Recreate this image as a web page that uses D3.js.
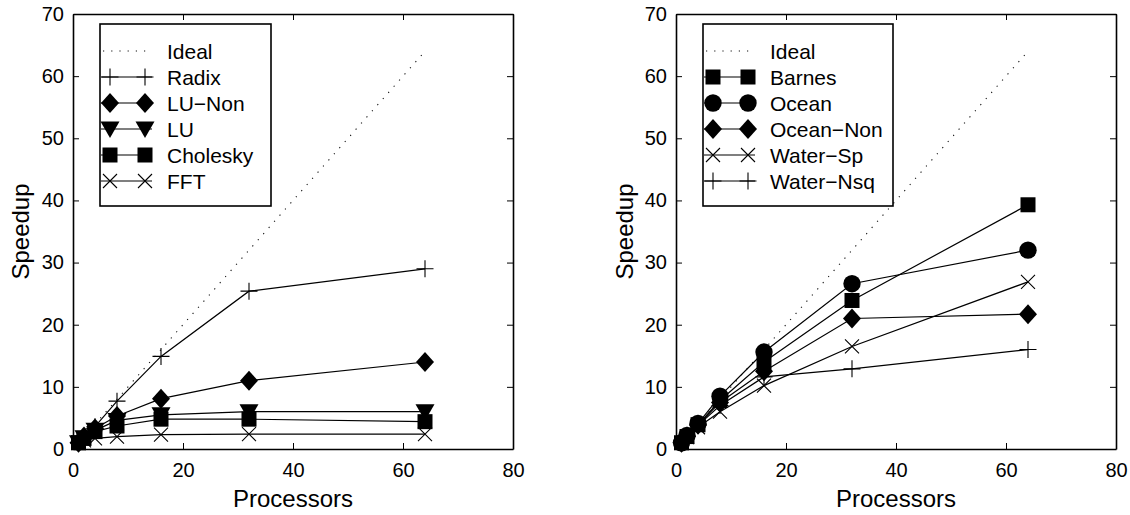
<!DOCTYPE html>
<html>
<head>
<meta charset="utf-8">
<script src="https://cdn.jsdelivr.net/npm/d3@7"></script>
<style>
  body { margin: 0; background: #fff; }
  text { font-family: "Liberation Sans", Arial, Helvetica, sans-serif; fill: #000; }
</style>
</head>
<body>
<svg width="1130" height="515"></svg>
<script>
// processor counts (x values)
let procs = [1, 2, 4, 8, 16, 32, 64];
let idealX = [1, 64];

// left panel series
let radix    = [1, 2, 3.6, 7.7, 14.9, 25.4, 29];
let luNon    = [1, 2, 3.3, 5.3, 8.1, 11, 14];
let lu       = [1, 1.8, 3, 4.6, 5.5, 6, 6];
let cholesky = [1, 1.7, 2.8, 3.7, 4.8, 4.8, 4.4];
let fft      = [1, 1.4, 1.7, 2.0, 2.3, 2.4, 2.4];

// right panel series
let barnes   = [1, 2, 3.9, 7.8, 14, 23.9, 39.3];
let ocean    = [1, 2.2, 4.1, 8.5, 15.6, 26.6, 32];
let oceanNon = [1, 2, 3.9, 7.5, 12.5, 21, 21.7];
let waterSp  = [1, 1.9, 3.5, 6, 10.2, 16.5, 26.9];
let waterNsq = [1, 2, 3.8, 7, 11.6, 12.9, 16];

let xTicks = [0, 20, 40, 60, 80];
let yTicks = [0, 10, 20, 30, 40, 50, 60, 70];

let leftNames  = ['Ideal', 'Radix', 'LU\u2212Non', 'LU', 'Cholesky', 'FFT'];
let leftData   = [null, radix, luNon, lu, cholesky, fft];
let leftMarks  = ['none', 'plus', 'diamond', 'tri', 'square', 'x'];

let rightNames = ['Ideal', 'Barnes', 'Ocean', 'Ocean\u2212Non', 'Water\u2212Sp', 'Water\u2212Nsq'];
let rightData  = [null, barnes, ocean, oceanNon, waterSp, waterNsq];
let rightMarks = ['none', 'square', 'circle', 'diamond', 'x', 'plus'];

let svg = d3.select('svg');

// draw a marker of the given type at (cx, cy)
function drawMarker(g, type, cx, cy) {
    if (type === 'plus') {
        g.append('path').attr('d', `M${cx-8.5},${cy}H${cx+8.5}M${cx},${cy-8.5}V${cy+8.5}`)
            .attr('stroke', '#000').attr('stroke-width', 1.1).attr('fill', 'none');
    } else if (type === 'x') {
        g.append('path').attr('d', `M${cx-7},${cy-7}L${cx+7},${cy+7}M${cx-7},${cy+7}L${cx+7},${cy-7}`)
            .attr('stroke', '#000').attr('stroke-width', 1.1).attr('fill', 'none');
    } else if (type === 'diamond') {
        g.append('path').attr('d', `M${cx},${cy-10}L${cx+9},${cy}L${cx},${cy+10}L${cx-9},${cy}Z`)
            .attr('fill', '#000');
    } else if (type === 'tri') {
        g.append('path').attr('d', `M${cx-9.5},${cy-7.5}L${cx+9.5},${cy-7.5}L${cx},${cy+9}Z`)
            .attr('fill', '#000');
    } else if (type === 'square') {
        g.append('rect').attr('x', cx - 7.5).attr('y', cy - 7.5)
            .attr('width', 15).attr('height', 15).attr('fill', '#000');
    } else if (type === 'circle') {
        g.append('circle').attr('cx', cx).attr('cy', cy).attr('r', 8.7).attr('fill', '#000');
    }
}

function drawPanel(p) {
    let xScale = d3.scaleLinear().domain([0, 80]).range([p.x0, p.x1]);
    let yScale = d3.scaleLinear().domain([0, 70]).range([p.y1, p.y0]);

    let g = svg.append('g');

    // ideal dotted line
    g.append('path')
        .attr('d', d3.line().x(d => xScale(d)).y(d => yScale(d))(idealX))
        .attr('fill', 'none').attr('stroke', '#111').attr('stroke-width', 1.1)
        .attr('stroke-dasharray', '1.2,7');

    // series
    for (let i = 1; i < p.data.length; i++) {
        let vals = p.data[i];
        let pts = procs.map((x, j) => [x, vals[j]]);
        g.append('path')
            .attr('d', d3.line().x(d => xScale(d[0])).y(d => yScale(d[1]))(pts))
            .attr('fill', 'none').attr('stroke', '#000').attr('stroke-width', 1.2);
        pts.forEach(d => drawMarker(g, p.marks[i], xScale(d[0]), yScale(d[1])));
    }

    // axes (inward ticks, boxed)
    let bottom = g.append('g').attr('transform', `translate(0,${p.y1})`)
        .call(d3.axisBottom(xScale).tickValues(xTicks).tickSizeInner(-6).tickSizeOuter(0).tickPadding(14));
    let left = g.append('g').attr('transform', `translate(${p.x0},0)`)
        .call(d3.axisLeft(yScale).tickValues(yTicks).tickSizeInner(-6).tickSizeOuter(0).tickPadding(9));
    let top = g.append('g').attr('transform', `translate(0,${p.y0})`)
        .call(d3.axisTop(xScale).tickValues(xTicks).tickSizeInner(-6).tickSizeOuter(0).tickFormat(''));
    let right = g.append('g').attr('transform', `translate(${p.x1},0)`)
        .call(d3.axisRight(yScale).tickValues(yTicks).tickSizeInner(-6).tickSizeOuter(0).tickFormat(''));
    [bottom, left, top, right].forEach(a => {
        a.select('.domain').attr('stroke', '#000').attr('stroke-width', 1.6);
        a.selectAll('.tick line').attr('stroke', '#000').attr('stroke-width', 1);
        a.selectAll('.tick text').attr('font-size', '20px').attr('fill', '#000')
            .style('font-family', '"Liberation Sans", Arial, sans-serif');
    });

    // axis labels
    g.append('text').attr('x', (p.x0 + p.x1) / 2).attr('y', 507)
        .attr('text-anchor', 'middle').attr('font-size', '24px').text('Processors');
    g.append('text').attr('transform', `translate(${p.ylabX},${(p.y0 + p.y1) / 2}) rotate(-90)`)
        .attr('text-anchor', 'middle').attr('font-size', '24px').text('Speedup');

    // legend
    let lg = g.append('g');
    let rowH = 26;
    lg.append('rect').attr('x', p.lx).attr('y', 24).attr('width', p.lw).attr('height', 182)
        .attr('fill', '#fff').attr('stroke', '#000').attr('stroke-width', 1.6);
    p.names.forEach((name, i) => {
        let cy = 51 + i * rowH;
        let ax = p.lx + 10, bx = p.lx + 45;
        if (i === 0) {
            lg.append('line').attr('x1', p.lx + 3).attr('x2', p.lx + 50).attr('y1', cy).attr('y2', cy)
                .attr('stroke', '#111').attr('stroke-width', 1.1).attr('stroke-dasharray', '1.2,7');
        } else {
            lg.append('line').attr('x1', p.lx + 1).attr('x2', p.lx + 52).attr('y1', cy).attr('y2', cy)
                .attr('stroke', '#000').attr('stroke-width', 1.2);
            drawMarker(lg, p.marks[i], ax, cy);
            drawMarker(lg, p.marks[i], bx, cy);
        }
        lg.append('text').attr('x', p.lx + 67).attr('y', cy).attr('dy', '0.36em')
            .attr('font-size', '21px').text(name);
    });
}

drawPanel({x0: 73, x1: 513, y0: 14, y1: 449, ylabX: 29, lx: 100, lw: 171,
           names: leftNames, data: leftData, marks: leftMarks});
drawPanel({x0: 676, x1: 1116, y0: 14, y1: 449, ylabX: 633, lx: 703, lw: 190,
           names: rightNames, data: rightData, marks: rightMarks});
</script>
</body>
</html>
